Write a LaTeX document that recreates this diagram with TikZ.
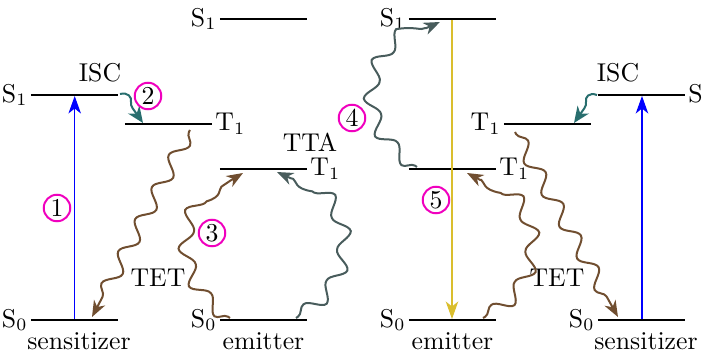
\documentclass[tikz,border=0pt]{standalone}
\usetikzlibrary{arrows.meta,decorations.pathmorphing}
\definecolor{brownw}{RGB}{112,78,48}
\definecolor{greyw}{RGB}{72,92,92}
\definecolor{tealw}{RGB}{40,110,110}
\definecolor{yelw}{RGB}{218,190,45}
\definecolor{circ}{RGB}{240,0,190}
\tikzset{
  level/.style={line width=0.8pt,black},
  lvlL/.style={anchor=east,inner xsep=1.2pt,inner ysep=0pt},
  lvlR/.style={anchor=west,inner xsep=1.2pt,inner ysep=0pt},
  word/.style={anchor=base,inner sep=0pt},
  tip/.style={-{Stealth[length=6.5pt,width=5pt,inset=2pt]}},
  wave/.style={line width=0.8pt,tip,decorate,decoration={snake,amplitude=2.9pt,segment length=14.5pt,pre length=1pt,post length=6pt}},
  photon/.style={line width=0.45pt,-{Stealth[length=7pt,width=5pt,inset=2pt]}},
  isc/.style={line width=0.8pt,tealw,-{Stealth[length=6.5pt,width=5.5pt,inset=2pt]}},
  num/.style={circle,draw=circ,line width=0.8pt,minimum size=10.6pt,inner sep=0pt}
}
\begin{document}
\begin{tikzpicture}[x=0.4pt,y=-0.4pt,font=\fontsize{10.3}{12}\selectfont]
\useasboundingbox (0,0) rectangle (703,359);
% ---------- left sensitizer ----------
\coordinate (a1l) at (31,95);  \coordinate (a1r) at (118,95);
\coordinate (at1l) at (125,124); \coordinate (at1r) at (212,124);
\coordinate (a0l) at (31,320); \coordinate (a0r) at (118,320);
\draw[level] (a1l) -- (a1r);
\draw[level] (at1l) -- (at1r);
\draw[level] (a0l) -- (a0r);
\node[lvlL] (a1t) at (a1l) {S$_1$};
\node[lvlR] (at1t) at (at1r) {T$_1$};
\node[lvlL] (a0t) at (a0l) {S$_0$};
\node[word] (asens) at (79,350) {sensitizer};
\node[word] (aisc) at (100,82) {ISC};
\node[word] (atet) at (158,287) {TET};
% ---------- left emitter ----------
\coordinate (b1l) at (220,19);  \coordinate (b1r) at (307,19);
\coordinate (bt1l) at (220,169); \coordinate (bt1r) at (307,169);
\coordinate (b0l) at (220,320); \coordinate (b0r) at (307,320);
\draw[level] (b1l) -- (b1r);
\draw[level] (bt1l) -- (bt1r);
\draw[level] (b0l) -- (b0r);
\node[lvlL] (b1t) at (b1l) {S$_1$};
\node[lvlR] (bt1t) at (bt1r) {T$_1$};
\node[lvlL] (b0t) at (b0l) {S$_0$};
\node[word] (bem) at (263.5,350) {emitter};
\node[word] (btta) at (310,152) {TTA};
% ---------- right emitter ----------
\coordinate (c1l) at (409,19);  \coordinate (c1r) at (496,19);
\coordinate (ct1l) at (409,169); \coordinate (ct1r) at (496,169);
\coordinate (c0l) at (409,320); \coordinate (c0r) at (496,320);
\draw[level] (c1l) -- (c1r);
\draw[level] (ct1l) -- (ct1r);
\draw[level] (c0l) -- (c0r);
\node[lvlL] (c1t) at (c1l) {S$_1$};
\node[lvlR] (ct1t) at (ct1r) {T$_1$};
\node[lvlL] (c0t) at (c0l) {S$_0$};
\node[word] (cem) at (452.5,350) {emitter};
% ---------- right sensitizer ----------
\coordinate (d1l) at (598,95);  \coordinate (d1r) at (685,95);
\coordinate (dt1l) at (504,124); \coordinate (dt1r) at (591,124);
\coordinate (d0l) at (598,320); \coordinate (d0r) at (685,320);
\draw[level] (d1l) -- (d1r);
\draw[level] (dt1l) -- (dt1r);
\draw[level] (d0l) -- (d0r);
\node[lvlR] (d1t) at (d1r) {S$_1$};
\node[lvlL] (dt1t) at (dt1l) {T$_1$};
\node[lvlL] (d0t) at (d0l) {S$_0$};
\node[word] (dsens) at (646,350) {sensitizer};
\node[word] (disc) at (618,82) {ISC};
\node[word] (dtet) at (557,287) {TET};
% ---------- connector end points ----------
\coordinate (pa0) at (74.7,319); \coordinate (pa1) at (74.7,96);
\coordinate (pd0) at (642,319);  \coordinate (pd1) at (642,96);
\coordinate (pc1) at (452,20);   \coordinate (pc0) at (452,319);
\coordinate (teta) at (190,130); \coordinate (tetb) at (92,317);
\coordinate (tetc) at (515,132); \coordinate (tetd) at (618,317);
\coordinate (e3a) at (230,318);  \coordinate (e3b) at (243,173);
\coordinate (g3a) at (296,318);  \coordinate (g3b) at (277,172);
\coordinate (g4a) at (417,167);  \coordinate (g4b) at (440,22);
\coordinate (e5a) at (483,318);  \coordinate (e5b) at (467,173);
\coordinate (isa) at (120,94);   \coordinate (isb) at (143,123);
\coordinate (isc) at (597,95);   \coordinate (isd) at (574,123);
% ---------- connectors ----------
\draw[photon,blue] (pa0) -- (pa1);
\draw[photon,blue] (pd0) -- (pd1);
\draw[photon,yelw] (pc1) -- (pc0);
\draw[wave,brownw] (teta) -- (tetb);
\draw[wave,brownw] (tetc) -- (tetd);
\draw[wave,brownw] (e3a) .. controls (185,290) and (172,210) .. (e3b);
\draw[wave,greyw] (g3a) .. controls (356,280) and (350,200) .. (g3b);
\draw[wave,greyw] (g4a) .. controls (360,130) and (365,50) .. (g4b);
\draw[wave,brownw] (e5a) .. controls (535,290) and (548,210) .. (e5b);
\draw[isc] (isa) .. controls (128,92) and (132,97) .. (131,102) .. controls (130,106) and (134,110) .. (isb);
\draw[isc] (isc) .. controls (589,92) and (585,97) .. (586,102) .. controls (587,106) and (583,110) .. (isd);
% ---------- step numbers ----------
\node[num] (n1) at (57,208) {1};
\node[num] (n2) at (148,96) {2};
\node[num] (n3) at (212,233) {3};
\node[num] (n4) at (352,118) {4};
\node[num] (n5) at (436,200) {5};
\end{tikzpicture}
\end{document}
